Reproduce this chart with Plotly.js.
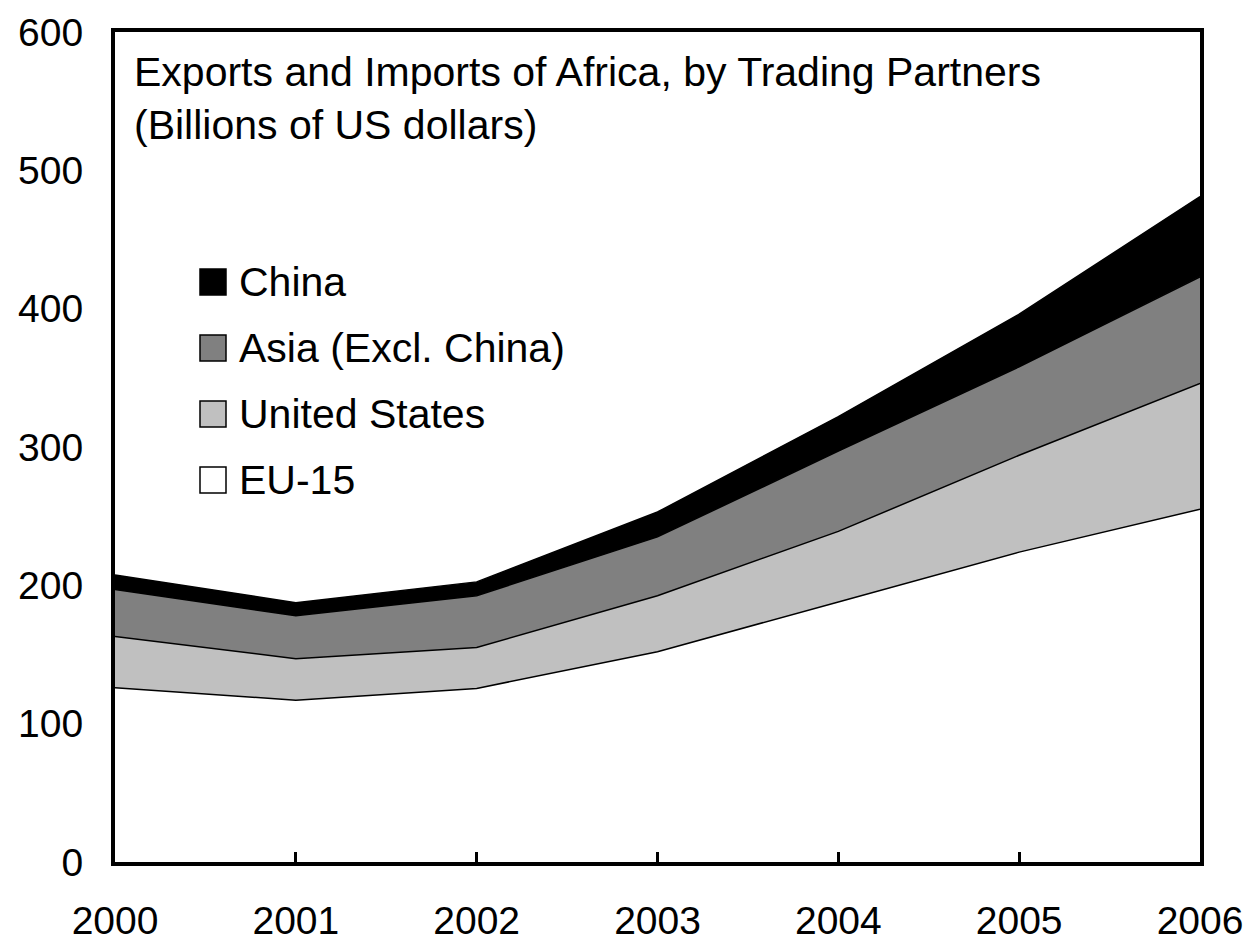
<!DOCTYPE html>
<html>
<head>
<meta charset="utf-8">
<script src="https://cdn.plot.ly/plotly-3.0.1.min.js"></script>
<style>
  html, body { margin: 0; padding: 0; background: #fff; }
  #chart { width: 1248px; height: 943px; }
</style>
</head>
<body>
<div id="chart"></div>
<script>
// values, billions of US dollars
const years = [2000, 2001, 2002, 2003, 2004, 2005, 2006];
const eu15 = [126, 117, 125.5, 152, 188, 224, 255];
const unitedStates = [37, 30, 29.5, 40.5, 51, 70, 91];
const asiaExclChina = [34, 31, 37.5, 42.5, 58, 64, 77];
const china = [10.5, 9.5, 10, 18, 25, 38, 58];

const seriesNames = ['EU-15', 'United States', 'Asia (Excl. China)', 'China'];
const seriesValues = [eu15, unitedStates, asiaExclChina, china];
const seriesColors = ['#ffffff', '#c0c0c0', '#808080', '#000000'];

const FONT = 'Arial, "Liberation Sans", Helvetica, sans-serif';

const traces = seriesNames.map((name, i) => ({
  type: 'scatter',
  mode: 'lines',
  name: name,
  x: years,
  y: seriesValues[i],
  stackgroup: 'trade',
  fillcolor: seriesColors[i],
  line: { color: '#000', width: 1.5 },
  showlegend: false,
  hoverinfo: 'x+y+name'
}));

// legend drawn as boxes + labels, China on top
const plotW = 1248 - 115 - 48, plotH = 943 - 32 - 81;
const legendOrder = [3, 2, 1, 0];
const shapes = [];
const annotations = [];
legendOrder.forEach((idx, k) => {
  const cy = 282 + k * 66;           // pixel centre of the row
  const yc = (862 - cy) / plotH;
  shapes.push({
    type: 'rect', xref: 'paper', yref: 'paper',
    x0: (200 - 115) / plotW, x1: (226 - 115) / plotW,
    y0: yc - 13 / plotH, y1: yc + 13 / plotH,
    fillcolor: seriesColors[idx], line: { color: '#000', width: 1.5 }
  });
  annotations.push({
    xref: 'paper', yref: 'paper', x: (237 - 115) / plotW, y: yc,
    xanchor: 'left', yanchor: 'middle', showarrow: false,
    text: seriesNames[idx], font: { family: FONT, size: 41, color: '#000' }
  });
});

const layout = {
  width: 1248, height: 943,
  margin: { l: 115, r: 48, t: 32, b: 81 },
  paper_bgcolor: '#fff', plot_bgcolor: '#fff',
  showlegend: false,
  title: {
    text: 'Exports and Imports of Africa, by Trading Partners<br>(Billions of US dollars)',
    x: 134 / 1248, xanchor: 'left', xref: 'container',
    y: 1 - 86 / 943, yanchor: 'top', yref: 'container',
    font: { family: FONT, size: 41, color: '#000' }
  },
  font: { family: FONT, size: 39, color: '#000' },
  xaxis: {
    range: [2000, 2006], tickvals: years, ticktext: years.map(String),
    showgrid: false, zeroline: false,
    showline: true, linecolor: '#000', linewidth: 4, mirror: true,
    ticks: 'inside', ticklen: 10, tickwidth: 3, tickcolor: '#000',
    ticklabelstandoff: 21,
    tickfont: { family: FONT, size: 39, color: '#000' }
  },
  yaxis: {
    range: [0, 600], dtick: 100,
    showgrid: false, zeroline: false,
    showline: true, linecolor: '#000', linewidth: 4, mirror: true,
    ticks: '', ticklabelstandoff: 20,
    tickfont: { family: FONT, size: 39, color: '#000' }
  },
  shapes: shapes,
  annotations: annotations
};

Plotly.newPlot('chart', traces, layout, { displayModeBar: false, staticPlot: true });
</script>
</body>
</html>
